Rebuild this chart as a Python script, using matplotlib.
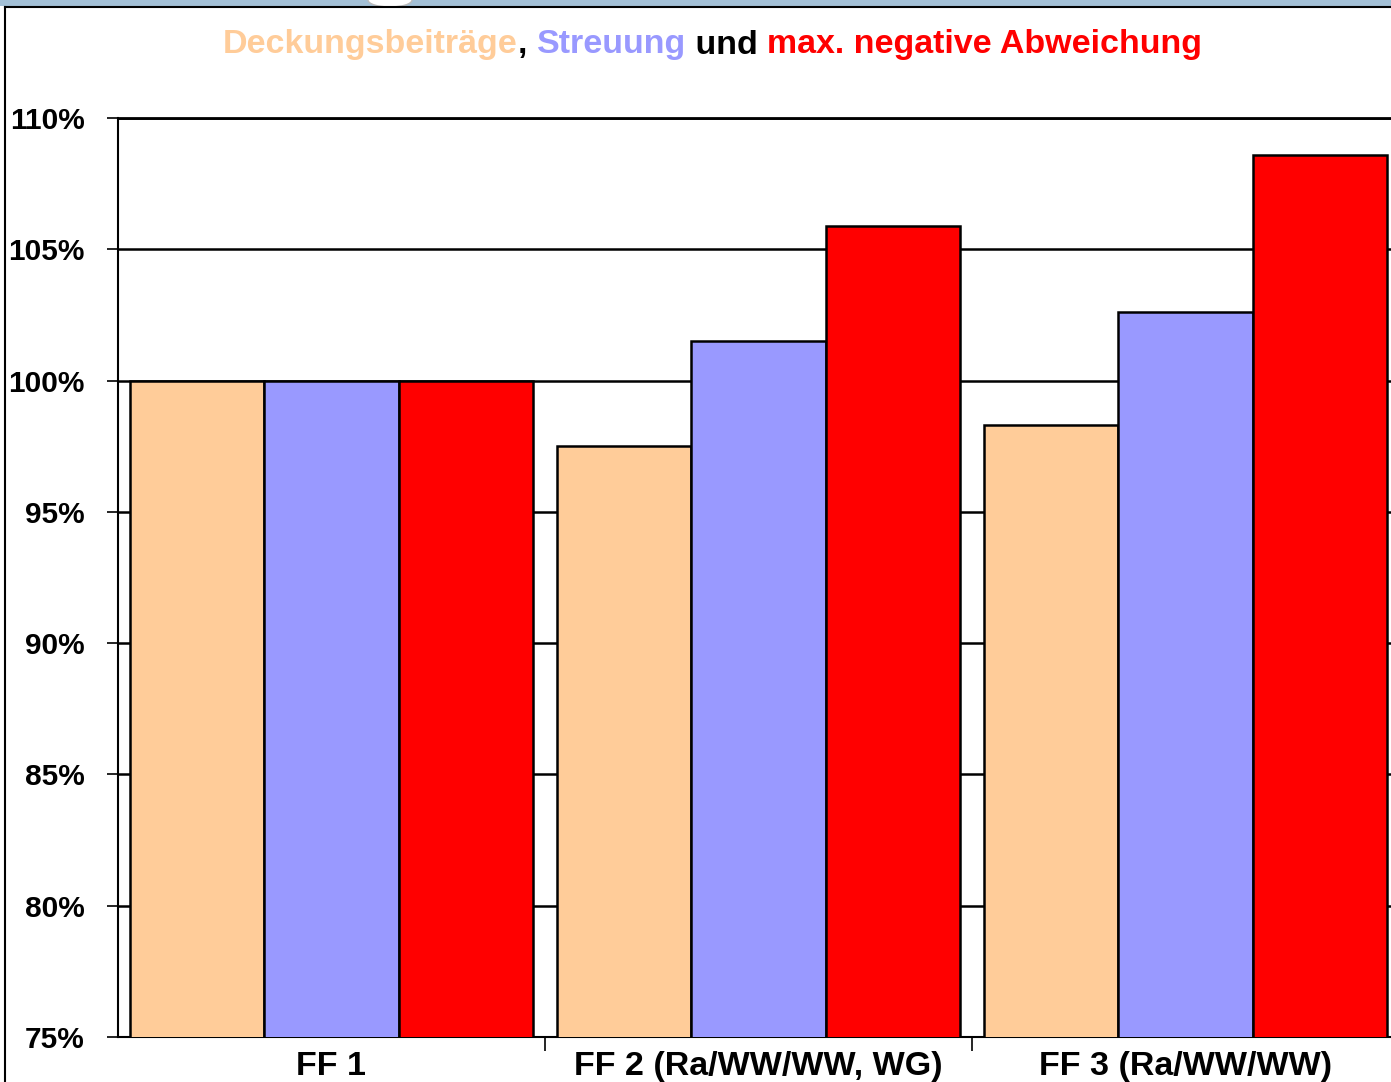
import matplotlib
matplotlib.use("Agg")
import matplotlib.pyplot as plt
from matplotlib.patches import Rectangle, Ellipse
import numpy as np

plt.rcParams['font.family'] = ['Liberation Sans', 'DejaVu Sans']

categories = ["FF 1", "FF 2 (Ra/WW/WW, WG)", "FF 3 (Ra/WW/WW)"]
deckungsbeitraege = [100.0, 97.5, 98.3]
streuung = [100.0, 101.5, 102.6]
max_neg_abweichung = [100.0, 105.9, 108.6]
yticks = [75, 80, 85, 90, 95, 100, 105, 110]
ytick_labels = ["75%", "80%", "85%", "90%", "95%", "100%", "105%", "110%"]

series = [deckungsbeitraege, streuung, max_neg_abweichung]
colors = ["#FFCC99", "#9999FF", "#FF0000"]

W, H = 1391, 1082
fig = plt.figure(figsize=(W / 100, H / 100), dpi=100)

# slide frame decorations
fig.patches.append(Rectangle((0, 1 - 6 / H), 1, 6 / H, transform=fig.transFigure,
                             facecolor="#A3C0D6", edgecolor="none", zorder=0))
fig.patches.append(Ellipse((390 / W, 1 - 0 / H), 44 / W, 14 / H, transform=fig.transFigure,
                           facecolor="white", edgecolor="#bbbbbb", lw=1, zorder=1))
fig.lines.append(plt.Line2D([5 / W, 1], [1 - 7 / H, 1 - 7 / H], transform=fig.transFigure,
                            color="black", lw=1.5))
fig.lines.append(plt.Line2D([5 / W, 5 / W], [0, 1 - 7 / H], transform=fig.transFigure,
                            color="black", lw=1.5))

ax = fig.add_axes([118 / W, 45 / H, 1281 / W, 919 / H])
x = np.arange(len(categories))
bw = 0.314
for i, (vals, c) in enumerate(zip(series, colors)):
    ax.bar(x + (i - 1) * bw, vals, width=bw, color=c, edgecolor="black", linewidth=1.8, zorder=3)

ax.set_ylim(75, 110)
ax.set_xlim(-0.5, 2.5)
ax.set_yticks(yticks)
ax.set_yticklabels(ytick_labels, fontsize=21.5, fontweight="bold")
ax.yaxis.grid(True, color="black", linewidth=1.8, zorder=0)
ax.set_axisbelow(True)

ax.set_xticks([0.5, 1.5], minor=True)
ax.set_xticks(x)
ax.set_xticklabels(categories, fontsize=24.5, fontweight="bold")
ax.tick_params(axis="x", which="major", length=0, pad=10)
ax.tick_params(axis="x", which="minor", length=10, width=1.2, direction="out")
ax.tick_params(axis="y", length=8, width=1.2, direction="out", pad=16)
for s in ["left", "bottom", "top"]:
    ax.spines[s].set_linewidth(1.5)
    ax.spines[s].set_color("black")
ax.spines["top"].set_linewidth(2)
ax.spines["right"].set_visible(False)

# multi-coloured title
parts = [("Deckungsbeiträge", "#FFCC99"), (", ", "black"), ("Streuung", "#9999FF"),
         (" und ", "black"), ("max. negative Abweichung", "#FF0000")]
texts = [fig.text(0, 0, s, color=c, fontsize=24.5, fontweight="bold", va="center", ha="left")
         for s, c in parts]
fig.canvas.draw()
r = fig.canvas.get_renderer()
xpos = 223
for tx in texts:
    tx.set_position((xpos / W, 1 - 45 / H))
    bb = tx.get_window_extent(renderer=r)
    xpos += bb.width

fig.savefig("out.png", dpi=100)
